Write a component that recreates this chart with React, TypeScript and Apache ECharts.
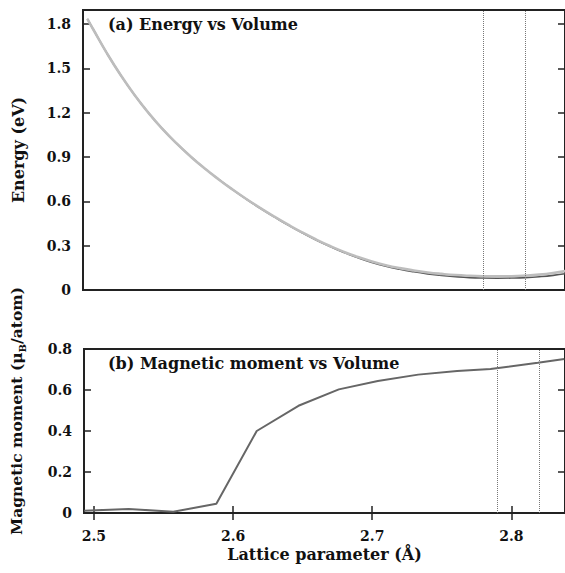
import React, { useEffect, useRef } from "react";
import * as echarts from "echarts";

// Panel (a): energy vs lattice parameter (two nearly overlapping curves)
const latticeE = [2.496, 2.500, 2.510, 2.520, 2.530, 2.540, 2.550, 2.560, 2.570, 2.580, 2.590, 2.600, 2.610, 2.620, 2.630, 2.640, 2.650, 2.660, 2.670, 2.680, 2.690, 2.700, 2.710, 2.720, 2.730, 2.740, 2.750, 2.760, 2.770, 2.780, 2.790, 2.800, 2.810, 2.820, 2.830, 2.840];
const energyLight = [1.835, 1.768, 1.603, 1.453, 1.318, 1.197, 1.089, 0.992, 0.904, 0.824, 0.750, 0.681, 0.616, 0.555, 0.497, 0.442, 0.390, 0.342, 0.298, 0.258, 0.223, 0.193, 0.168, 0.148, 0.132, 0.119, 0.109, 0.101, 0.096, 0.093, 0.092, 0.093, 0.097, 0.104, 0.115, 0.130];
const energyDark = [1.835, 1.768, 1.603, 1.453, 1.318, 1.197, 1.089, 0.992, 0.904, 0.824, 0.750, 0.681, 0.615, 0.553, 0.495, 0.439, 0.387, 0.338, 0.294, 0.253, 0.218, 0.187, 0.161, 0.140, 0.123, 0.109, 0.098, 0.090, 0.084, 0.081, 0.080, 0.081, 0.084, 0.090, 0.099, 0.112];

// Panel (b): magnetic moment vs lattice parameter
const latticeM = [2.493, 2.525, 2.557, 2.588, 2.617, 2.647, 2.676, 2.704, 2.733, 2.761, 2.785, 2.819, 2.838];
const moment = [0.011, 0.02, 0.006, 0.045, 0.40, 0.523, 0.603, 0.644, 0.675, 0.693, 0.702, 0.733, 0.751];

// Dotted vertical markers
const dottedTop = [2.781, 2.811];
const dottedBottom = [2.7855, 2.82];

// Ticks
const xTicks = [2.5, 2.6, 2.7, 2.8];
const energyTicks = [0, 0.3, 0.6, 0.9, 1.2, 1.5, 1.8];
const momentTicks = [0, 0.2, 0.4, 0.6, 0.8];

const FONT = "DejaVu Serif";
const X_MIN = 2.4929;
const X_MAX = 2.8385;

const fmt = (v: number) => (Math.abs(v) < 1e-9 ? "0" : v.toFixed(1));

export default function App() {
  const ref = useRef<HTMLDivElement>(null);
  useEffect(() => {
    if (!ref.current) return;
    const chart = echarts.init(ref.current, null, { renderer: "svg" });
    const labelStyle = { fontFamily: FONT, fontWeight: "bold" as const, fontSize: 14, color: "#111" };
    const tickIn = (vals: number[]) => ({
      show: true,
      inside: true,
      length: 7,
      customValues: vals,
      lineStyle: { color: "#222", width: 1.5 },
    });
    const mkLine = (vals: number[]) => ({
      silent: true,
      symbol: ["none", "none"],
      label: { show: false },
      lineStyle: { type: "dotted" as const, color: "#777", width: 1 },
      data: vals.map((v) => ({ xAxis: v })),
    });
    chart.setOption({
      animation: false,
      backgroundColor: "#fff",
      grid: [
        { left: 83, top: 10, right: -3, height: 280, show: true, borderColor: "#222", borderWidth: 2, backgroundColor: "transparent" },
        { left: 83, top: 349, right: -3, height: 164, show: true, borderColor: "#222", borderWidth: 2, backgroundColor: "transparent" },
      ],
      xAxis: [
        {
          gridIndex: 0, type: "value", min: X_MIN, max: X_MAX,
          axisLine: { show: false }, axisTick: { show: false }, axisLabel: { show: false }, splitLine: { show: false },
        },
        {
          gridIndex: 1, type: "value", min: X_MIN, max: X_MAX, position: "bottom",
          axisLine: { show: false }, axisTick: tickIn(xTicks),
          axisLabel: { ...labelStyle, customValues: xTicks, margin: 16, formatter: (v: number) => v.toFixed(1) },
          splitLine: { show: false },
          name: "Lattice parameter (Å)", nameLocation: "middle", nameGap: 33,
          nameTextStyle: { fontFamily: FONT, fontWeight: "bold", fontSize: 16, color: "#111" },
        },
        {
          gridIndex: 1, type: "value", min: X_MIN, max: X_MAX, position: "top",
          axisLine: { show: false }, axisTick: tickIn(xTicks), axisLabel: { show: false }, splitLine: { show: false },
        },
      ],
      yAxis: [
        {
          gridIndex: 0, type: "value", min: 0, max: 1.895, position: "left",
          axisLine: { show: false }, axisTick: tickIn(energyTicks),
          axisLabel: { ...labelStyle, customValues: energyTicks, margin: 12, formatter: fmt },
          splitLine: { show: false },
          name: "Energy (eV)", nameLocation: "middle", nameGap: 57,
          nameTextStyle: { fontFamily: FONT, fontWeight: "bold", fontSize: 16, color: "#111" },
        },
        {
          gridIndex: 0, type: "value", min: 0, max: 1.895, position: "right",
          axisLine: { show: false }, axisTick: tickIn(energyTicks), axisLabel: { show: false }, splitLine: { show: false },
        },
        {
          gridIndex: 1, type: "value", min: 0, max: 0.8, position: "left",
          axisLine: { show: false }, axisTick: tickIn(momentTicks),
          axisLabel: { ...labelStyle, customValues: momentTicks, margin: 12, formatter: fmt },
          splitLine: { show: false },
          name: "{a|Magnetic moment (μ}{s|B}{a|/atom)}", nameLocation: "middle", nameGap: 57,
          nameTextStyle: {
            padding: [0, 0, 0, 40],
            rich: {
              a: { fontFamily: FONT, fontWeight: "bold", fontSize: 15.5, color: "#111", lineHeight: 22 },
              s: { fontFamily: FONT, fontWeight: "bold", fontSize: 10, color: "#111", lineHeight: 10, verticalAlign: "bottom" },
            },
          },
        },
        {
          gridIndex: 1, type: "value", min: 0, max: 0.8, position: "right",
          axisLine: { show: false }, axisTick: tickIn(momentTicks), axisLabel: { show: false }, splitLine: { show: false },
        },
      ],
      graphic: [
        { type: "text", left: 108, top: 16, style: { text: "(a) Energy vs Volume", font: `bold 16px "${FONT}"`, fill: "#111" } },
        { type: "text", left: 108, top: 355, style: { text: "(b) Magnetic moment vs Volume", font: `bold 16px "${FONT}"`, fill: "#111" } },
      ],
      series: [
        {
          type: "line", xAxisIndex: 0, yAxisIndex: 0, smooth: true, symbol: "none",
          data: latticeE.map((x, i) => [x, energyDark[i]]),
          lineStyle: { color: "#555", width: 1.6 },
          markLine: mkLine(dottedTop),
          z: 2,
        },
        {
          type: "line", xAxisIndex: 0, yAxisIndex: 0, smooth: true, symbol: "none",
          data: latticeE.map((x, i) => [x, energyLight[i]]),
          lineStyle: { color: "#bdbdbd", width: 2.6 },
          z: 3,
        },
        {
          type: "line", xAxisIndex: 1, yAxisIndex: 2, symbol: "none",
          data: latticeM.map((x, i) => [x, moment[i]]),
          lineStyle: { color: "#666", width: 2 },
          markLine: mkLine(dottedBottom),
        },
      ],
    });
    return () => chart.dispose();
  }, []);
  return <div ref={ref} style={{ position: "fixed", left: 0, top: 0, width: 565, height: 573 }} />;
}
